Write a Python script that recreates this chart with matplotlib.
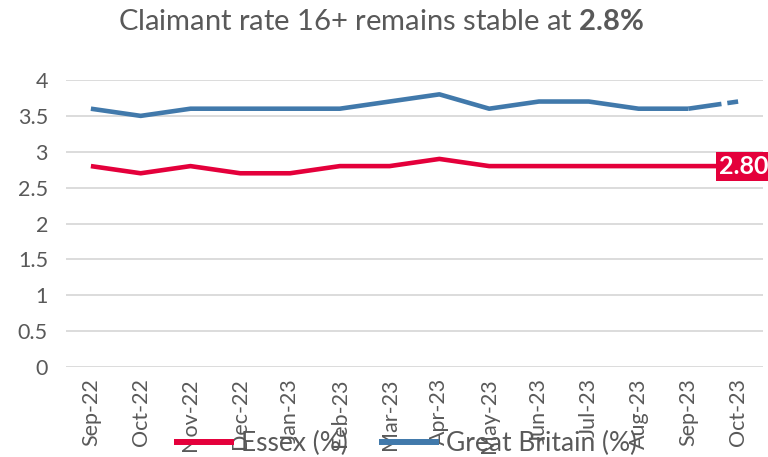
import matplotlib
matplotlib.use("Agg")
import matplotlib.pyplot as plt

plt.rcParams['font.family'] = ['Lato', 'DejaVu Sans']
plt.rcParams['mathtext.fontset'] = 'custom'
plt.rcParams['mathtext.bf'] = 'Lato:bold'
plt.rcParams['mathtext.rm'] = 'Lato'

months = ["Sep-22", "Oct-22", "Nov-22", "Dec-22", "Jan-23", "Feb-23", "Mar-23",
          "Apr-23", "May-23", "Jun-23", "Jul-23", "Aug-23", "Sep-23", "Oct-23"]
essex = [2.8, 2.7, 2.8, 2.7, 2.7, 2.8, 2.8, 2.9, 2.8, 2.8, 2.8, 2.8, 2.8, 2.8]
gb = [3.6, 3.5, 3.6, 3.6, 3.6, 3.6, 3.7, 3.8, 3.6, 3.7, 3.7, 3.6, 3.6, 3.7]
yticks = [0, 0.5, 1, 1.5, 2, 2.5, 3, 3.5, 4]
ytick_labels = ["0", "0.5", "1", "1.5", "2", "2.5", "3", "3.5", "4"]

RED = "#E4003B"
BLUE = "#4179AB"
GREY = "#595959"

fig = plt.figure(figsize=(7.68, 4.57), dpi=100)
ax = fig.add_axes([66/768, 90/457, 697/768, 287/457])

x = list(range(len(months)))
ax.plot(x, essex, color=RED, lw=3.3, solid_capstyle='butt', solid_joinstyle='round',
        label="Essex (%)", zorder=3)
ax.plot(x[:-1], gb[:-1], color=BLUE, lw=3.3, solid_capstyle='butt', solid_joinstyle='round',
        label="Great Britain (%)", zorder=3)
ax.plot(x[-2:], gb[-2:], color=BLUE, lw=3.3, linestyle=(0, (7.3, 1.3, 3, 1.3)),
        dash_capstyle='butt', zorder=3)

ax.annotate(f"{essex[-1]:.2f}", xy=(x[-1], essex[-1]), xytext=(-14, 0),
            textcoords='offset points', ha='left', va='center', color='white',
            fontsize=18, fontweight='bold', annotation_clip=False, zorder=5,
            bbox=dict(boxstyle='square,pad=0.12', fc=RED, ec='none'))

ax.set_xlim(-0.5, len(months) - 0.5)
ax.set_ylim(0, 4)
ax.set_yticks(yticks)
ax.set_yticklabels(ytick_labels)
ax.set_xticks(x)
ax.set_xticklabels(months, rotation=90)
ax.tick_params(axis='both', length=0, labelsize=15.5, colors=GREY)
ax.tick_params(axis='y', pad=13)
ax.tick_params(axis='x', pad=8)
ax.grid(axis='y', color='#D9D9D9', lw=1.3)
ax.set_axisbelow(True)
for s in ax.spines.values():
    s.set_visible(False)

fig.text(0.496, 0.952, "Claimant rate 16+ remains stable at $\\bf{2.8\\%}$", ha='center',
         va='center', fontsize=21, color=GREY)

leg = fig.legend(loc='center', bbox_to_anchor=(0.528, 0.03), ncol=2, frameon=False,
                 fontsize=19, handlelength=2.25, columnspacing=1.2, handletextpad=0.27)
for txt in leg.get_texts():
    txt.set_color(GREY)
for h in leg.get_lines():
    h.set_linewidth(4.3)

fig.savefig("out.png", dpi=100)
